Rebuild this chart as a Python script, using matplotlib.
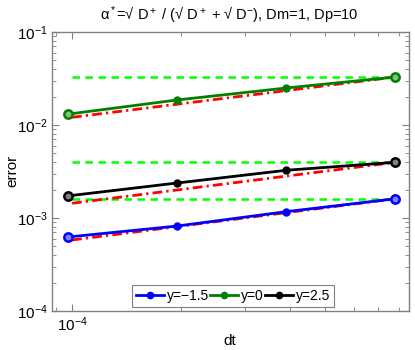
import matplotlib
matplotlib.use("Agg")
import matplotlib.pyplot as plt
from matplotlib.ticker import LogLocator, NullFormatter
from matplotlib.lines import Line2D

plt.rcParams['font.family'] = ['Liberation Sans', 'DejaVu Sans']
plt.rcParams['mathtext.fontset'] = 'custom'
plt.rcParams['mathtext.rm'] = 'Liberation Sans'
plt.rcParams['mathtext.it'] = 'Liberation Sans'

dt = [9.765625e-5, 1.953125e-4, 3.90625e-4, 7.8125e-4]
labels = ['y=\u22121.5', 'y=0', 'y=2.5']
colors = ['#0000ff', '#008000', '#000000']
err_blue = [6.25e-4, 8.2e-4, 1.17e-3, 1.61e-3]
err_green = [1.31e-2, 1.86e-2, 2.50e-2, 3.28e-2]
err_black = [1.73e-3, 2.38e-3, 3.26e-3, 3.97e-3]
errors = [err_blue, err_green, err_black]
# reference dash-dot lines (start, end)
ref_x = [1.0e-4, 7.8125e-4]
ref_blue = [5.8e-4, 1.61e-3]
ref_green = [1.21e-2, 3.28e-2]
ref_black = [1.44e-3, 3.97e-3]
refs = [ref_blue, ref_green, ref_black]
# horizontal dashed levels
flat_levels = [1.62e-3, 3.3e-2, 3.97e-3]

fig = plt.figure(figsize=(4.15, 3.5), dpi=100)
ax = fig.add_axes([52/415, 1 - 311/350, (409-52)/415, (311-32)/350])

for lvl in flat_levels:
    ax.plot(ref_x, [lvl, lvl], color='#00ff00', ls=(0, (3, 2.2)), lw=1.8, zorder=2)
for r in refs:
    ax.plot(ref_x, r, color='#ff0000', ls=(0, (3.5, 1.5, 0.8, 1.5)), lw=2.0, zorder=2)

handles = []
light = ['#8080ff', '#80c080', '#808080']
for e, c, lab, lc in zip(errors, colors, labels, light):
    ax.plot(dt, e, color=c, lw=2.0, marker='o', ms=5, mfc=c, mec=c,
            markevery=[1, 2], zorder=3)
    ax.plot([dt[0], dt[-1]], [e[0], e[-1]], ls='none', marker='o', ms=6,
            mfc=lc, mec=c, mew=1.8, zorder=4)
    handles.append(Line2D([], [], color=c, lw=2.0, marker='o', ms=4.5,
                          mfc=c, mec=c, label=lab))

ax.set_xscale('log')
ax.set_yscale('log')
ax.set_xlim(8.8e-5, 8.53e-4)
ax.set_ylim(1e-4, 1e-1)
ax.xaxis.set_major_locator(LogLocator(base=10, numticks=10))
ax.yaxis.set_major_locator(LogLocator(base=10, numticks=10))
ax.xaxis.set_minor_locator(LogLocator(base=10, subs=range(2, 10), numticks=10))
ax.yaxis.set_minor_locator(LogLocator(base=10, subs=range(2, 10), numticks=10))
ax.xaxis.set_minor_formatter(NullFormatter())
ax.yaxis.set_minor_formatter(NullFormatter())
ax.tick_params(which='both', direction='in', top=True, right=True, color='#808080',
               labelsize=11, labelcolor='black')
ax.tick_params(which='major', length=5, pad=3)
ax.tick_params(which='minor', length=3)
for s in ax.spines.values():
    s.set_color('#808080')
    s.set_linewidth(1.0)

fig.text(230/415, 1 - 341/350, 'dt', fontsize=11, ha='center', va='center')
fig.text(12/415, 1 - 171/350, 'error', fontsize=11, ha='center', va='center',
         rotation=90)
fig.text(229/415, 1 - 15/350,
         '\u03b1$^*$=\u221a D$^+$ / (\u221a D$^+$ + \u221a D$^{\u2212}$), Dm=1, Dp=10',
         fontsize=10.5, ha='center', va='center')

leg = ax.legend(handles=handles, loc='lower left', ncol=3, fontsize=10,
                bbox_to_anchor=((132-52)/357, (311-307)/279 - 0.0),
                borderaxespad=0.0,
                handlelength=2.0, handletextpad=0.2,
                columnspacing=0.1, borderpad=0.3,
                fancybox=False, edgecolor='#808080', framealpha=1)
leg.get_frame().set_linewidth(0.8)

fig.savefig('out.png', dpi=100)
